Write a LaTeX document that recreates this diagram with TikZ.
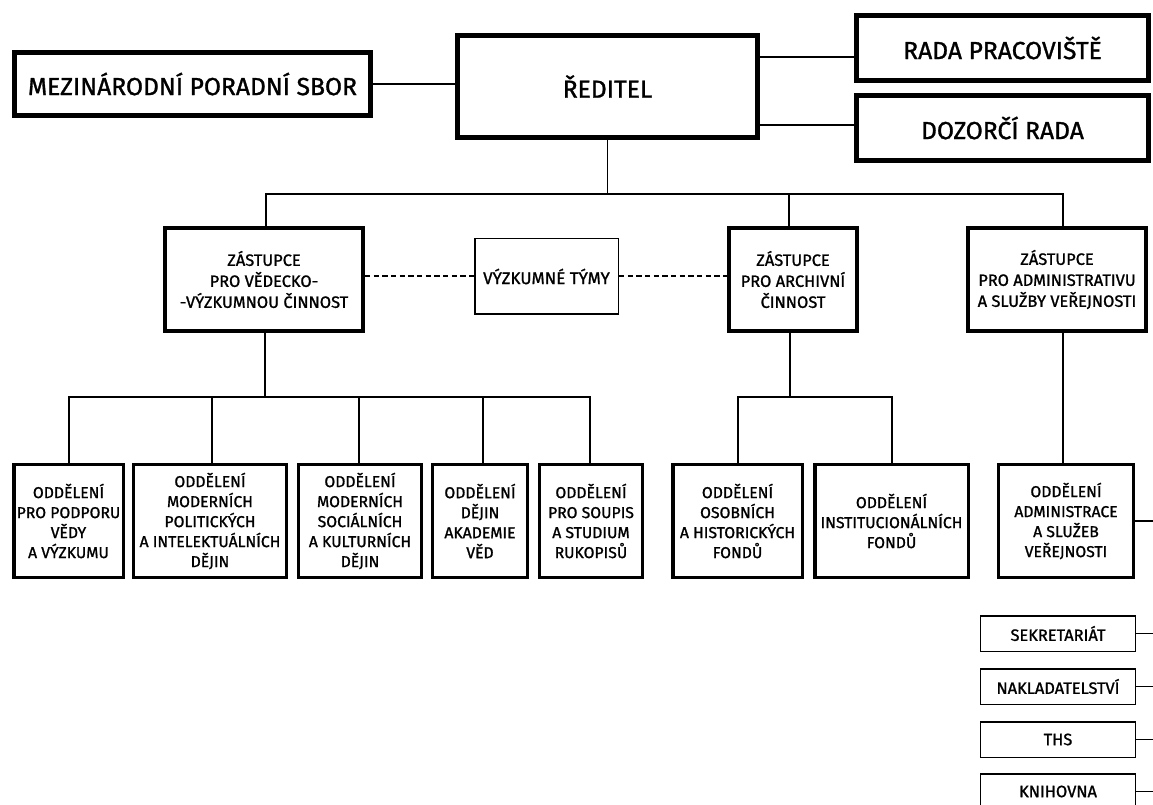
\documentclass[tikz,border=0pt]{standalone}
\usepackage{fontspec}
\setmainfont{Fira Sans}[FakeBold=1.2]
\begin{document}
\begin{tikzpicture}[x=0.75pt,y=-0.75pt,
  every node/.style={inner sep=0pt, align=center, text=black},
  topbox/.style={draw, line width=3.75pt, font=\fontsize{18.5}{21}\selectfont},
  depbox/.style={draw, line width=3pt, minimum height=77.25pt, font=\fontsize{12.3}{15.75}\selectfont},
  unitbox/.style={draw, line width=2.6pt, minimum height=84.4pt, font=\fontsize{11.8}{15}\selectfont},
  thinbox/.style={draw, line width=1.1pt, font=\fontsize{12.7}{16}\selectfont},
  smallbox/.style={draw, line width=1.1pt, minimum width=115.9pt, minimum height=26.6pt, font=\fontsize{12.3}{14}\selectfont},
  conn/.style={line width=1.1pt},
  dashconn/.style={line width=1.1pt, dash pattern=on 4pt off 2.5pt}]
\useasboundingbox (0,0) rectangle (1153,805);
\clip (0,0) rectangle (1153,805);

% top level
\node[topbox, minimum width=267pt, minimum height=47.25pt] (mez) at (192.5,84) {MEZINÁRODNÍ PORADNÍ SBOR};
\node[topbox, minimum width=225pt, minimum height=76.5pt] (red) at (607.5,86.5) {ŘEDITEL};
\node[topbox, minimum width=219pt, minimum height=48.75pt] (rada) at (1002.5,48) {RADA PRACOVIŠTĚ};
\node[topbox, minimum width=219pt, minimum height=48.75pt] (doz) at (1002.5,128) {DOZORČÍ RADA};

\draw[conn] (mez.east) -- (mez.east -| red.west);
\coordinate (r1) at (700,57);
\coordinate (r2) at (700,125);
\draw[conn] (r1 -| red.east) -- (r1 -| rada.west);
\draw[conn] (r2 -| red.east) -- (r2 -| doz.west);

% deputies
\node[depbox, minimum width=148.5pt] (ved) at (264,279.5) {ZÁSTUPCE\\PRO VĚDECKO-\\-VÝZKUMNOU ČINNOST};
\node[thinbox, minimum width=107.6pt, minimum height=56.6pt] (tym) at (546.5,276.5) {VÝZKUMNÉ TÝMY};
\node[depbox, minimum width=96pt] (arch) at (793,279.5) {ZÁSTUPCE\\PRO ARCHIVNÍ\\ČINNOST};
\node[depbox, minimum width=133.5pt] (adm) at (1057,279.5) {ZÁSTUPCE\\PRO ADMINISTRATIVU\\A SLUŽBY VEŘEJNOSTI};

\coordinate (bus0) at (607.5,194);
\coordinate (t1) at (266,194);
\coordinate (t2) at (789,194);
\coordinate (t3) at (1063,194);
\draw[conn] (red.south) -- (bus0);
\draw[conn] (t1 |- ved.north) -- (t1) -- (t3) -- (t3 |- adm.north);
\draw[conn] (t2) -- (t2 |- arch.north);

\coordinate (d1) at (400,276);
\draw[dashconn] (d1 -| ved.east) -- (d1 -| tym.west);
\draw[dashconn] (d1 -| tym.east) -- (d1 -| arch.west);

% departments
\node[unitbox, minimum width=82.1pt] (b1) at (68.5,521) {ODDĚLENÍ\\PRO PODPORU\\VĚDY\\A VÝZKUMU};
\node[unitbox, minimum width=114.4pt] (b2) at (210,521) {ODDĚLENÍ\\MODERNÍCH\\POLITICKÝCH\\A INTELEKTUÁLNÍCH\\DĚJIN};
\node[unitbox, minimum width=91.9pt] (b3) at (360,521) {ODDĚLENÍ\\MODERNÍCH\\SOCIÁLNÍCH\\A KULTURNÍCH\\DĚJIN};
\node[unitbox, minimum width=70.9pt] (b4) at (480,521) {ODDĚLENÍ\\DĚJIN\\AKADEMIE\\VĚD};
\node[unitbox, minimum width=76.9pt] (b5) at (591,521) {ODDĚLENÍ\\PRO SOUPIS\\A STUDIUM\\RUKOPISŮ};
\node[unitbox, minimum width=97.1pt] (b6) at (737.5,521) {ODDĚLENÍ\\OSOBNÍCH\\A HISTORICKÝCH\\FONDŮ};
\node[unitbox, minimum width=115.1pt] (b7) at (891.5,521) {ODDĚLENÍ\\INSTITUCIONÁLNÍCH\\FONDŮ};
\node[unitbox, minimum width=100.9pt] (b8) at (1066,521) {ODDĚLENÍ\\ADMINISTRACE\\A SLUŽEB\\VEŘEJNOSTI};

\coordinate (v0) at (265,397);
\coordinate (v1) at (69,397);
\coordinate (v2) at (212,397);
\coordinate (v3) at (359,397);
\coordinate (v4) at (483,397);
\coordinate (v5) at (590,397);
\draw[conn] (v0 |- ved.south) -- (v0);
\draw[conn] (v1 |- b1.north) -- (v1) -- (v5) -- (v5 |- b5.north);
\draw[conn] (v2) -- (v2 |- b2.north);
\draw[conn] (v3) -- (v3 |- b3.north);
\draw[conn] (v4) -- (v4 |- b4.north);

\coordinate (a0) at (790,397);
\coordinate (a1) at (738,397);
\coordinate (a2) at (892,397);
\draw[conn] (a0 |- arch.south) -- (a0);
\draw[conn] (a1 |- b6.north) -- (a1) -- (a2) -- (a2 |- b7.north);

\draw[conn] (t3 |- adm.south) -- (t3 |- b8.north);

\coordinate (edge) at (1160,0);
\draw[conn] (b8.east) -- (b8.east -| edge);

% admin units
\node[smallbox] (s1) at (1058,633.5) {SEKRETARIÁT};
\node[smallbox] (s2) at (1058,686.5) {NAKLADATELSTVÍ};
\node[smallbox] (s3) at (1058,739.5) {THS};
\node[smallbox] (s4) at (1058,791.5) {KNIHOVNA};
\draw[conn] (s1.east) -- (s1.east -| edge);
\draw[conn] (s2.east) -- (s2.east -| edge);
\draw[conn] (s3.east) -- (s3.east -| edge);
\draw[conn] (s4.east) -- (s4.east -| edge);
\end{tikzpicture}
\end{document}
